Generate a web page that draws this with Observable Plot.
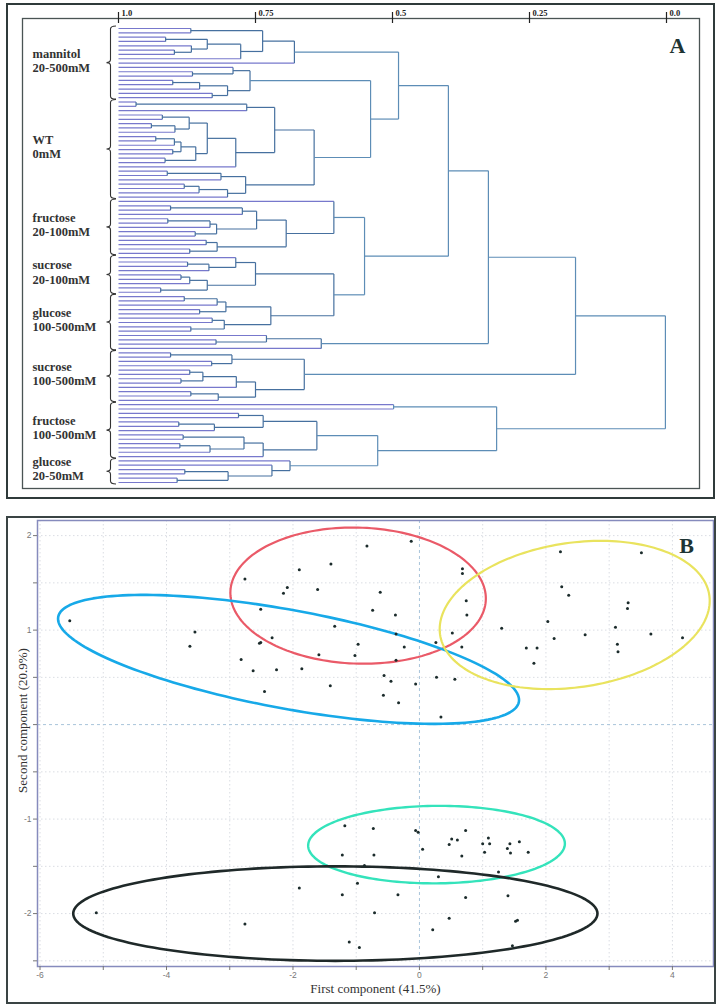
<!DOCTYPE html>
<html><head><meta charset="utf-8">
<script src="https://cdn.jsdelivr.net/npm/d3@7"></script>
<script src="https://cdn.jsdelivr.net/npm/@observablehq/plot@0.6"></script>
<style>
html,body{margin:0;padding:0;background:#fff}
body{width:720px;height:1008px;position:relative;overflow:hidden}
#a,#b{position:absolute;left:0}
#a{top:0}
#b{top:505px}
.frame{position:absolute;box-sizing:border-box;pointer-events:none}
.fa{left:6px;top:3px;width:709px;height:496px;border:2px solid #2f3a3a}
.fb{left:6px;top:516px;width:710px;height:488px;border:2px solid #3a4444}
</style></head><body>
<div id="a"></div><div id="b"></div><div class="frame fa"></div><div class="frame fb"></div>
<script>
// ---------------- Panel A: dendrogram (similarity scale 1.0 -> 0.0) ----------------
// node = [mergeHeight, child, child]; leaf = 1 (leaf level)
const mannitolA = [0.679, [0.737, [0.868, 1, 1], [0.777, [0.838, [0.914, 1, 1], [0.867, 1, [0.898, 1, 1]]], 1]], 1];
const mannitolB = [0.76, [0.791, 1, [0.865, 1, 1]], [0.801, [0.852, [0.901, 1, 1], 1], [0.829, 1, 1]]];
const wtTree = [0.643,
  [0.715, [0.766, [0.968, 1, 1], 1],
    [0.786, [0.838, [0.871, [0.92, 1, 1], [0.897, [0.94, 1, 1], 1]],
                    [0.859, [0.886, [0.898, [0.932, 1, 1], 1], [0.901, 1, 1]], [0.915, 1, 1]]], 1]],
  [0.768, [0.813, [0.911, 1, 1], 1], [0.801, [0.853, [0.88, 1, 1], 1], 1]]];
const fructoseLow = [0.607, 1, [0.694, [0.748, [0.774, [0.905, 1, 1], 1], [0.821, [0.833, [0.91, 1, 1], 1], [0.86, 1, 1]]], [0.82, [0.84, 1, 1], [0.87, 1, 1]]]];
const sucroseLow = [0.75, [0.786, 1, [0.835, [0.874, 1, 1], 1]], [0.838, [0.87, [0.886, 1, 1], 1], [0.923, 1, 1]]];
const glucoseHigh = [0.722, [0.804, [0.82, [0.88, 1, 1], 1], [0.852, 1, 1]], [0.807, [0.829, 1, 1], [0.868, 1, 1]]];
const glucoseTail = [0.63, [0.73, 1, [0.822, 1, 1]], 1];
const sucroseHigh = [0.661, [0.793, [0.905, 1, 1], [0.83, 1, 1]], [0.75, [0.785, [0.846, [0.87, 1, 1], [0.886, 1, 1]], 1], [0.818, [0.868, 1, 1], 1]]];
const outlierPair = [0.498, 1, 1];
const fructoseHigh = [0.638, [0.736, [0.781, 1, 1], [0.825, [0.89, 1, 1], 1]], [0.736, [0.771, [0.882, 1, 1], [0.833, [0.888, 1, 1], 1]], 1]];
const glucoseLow = [0.687, 1, [0.72, 1, [0.8, [0.879, 1, 1], [0.893, 1, 1]]]];
const dendroRoot = [0.002,
  [0.166,
    [0.325,
      [0.398,
        [0.489, mannitolA, [0.54, mannitolB, wtTree]],
        [0.551, fructoseLow, [0.607, sucroseLow, glucoseHigh]]],
      glucoseTail],
    sucroseHigh],
  [0.31, outlierPair, [0.527, fructoseHigh, glucoseLow]]];

const groupLabels = ["mannitol\n20-500mM", "WT\n0mM", "fructose\n20-100mM", "sucrose\n20-100mM",
  "glucose\n100-500mM", "sucrose\n100-500mM", "fructose\n100-500mM", "glucose\n20-50mM"];
const groupSizes = [17, 23, 13, 9, 13, 12, 13, 6];
const scaleTicks = [1, 0.75, 0.5, 0.25, 0];
const scaleTickLabels = ["1.0", "0.75", "0.5", "0.25", "0.0"];

// ---------------- Panel B: PCA scores ----------------
const pc1 = [-5.53,-3.55,-3.63,-2.76,-2.51,-2.51,-2.53,-2.33,-2.82,-2.63,-2.26,-1.86,-2.45,-2.15,-2.09,-1.90,-1.61,-1.40,-1.34,-1.59,-1.41,-0.97,-1.02,
  -0.83,-0.13,0.68,0.68,-0.62,-0.74,-0.38,0.74,0.75,-0.37,0.52,-0.24,0.26,0.67,-0.37,-0.56,-0.45,-0.06,0.27,0.56,-0.57,-0.33,0.34,
  2.23,3.51,2.25,2.36,3.30,3.29,2.03,1.30,3.10,2.62,3.66,4.16,2.13,1.69,1.86,3.13,3.14,1.81,
  -1.18,-1.22,-0.98,-1.22,-1.90,-5.11,-2.76,-1.11,-0.95,
  -0.73,-0.72,-0.06,-0.02,0.05,0.73,0.51,0.60,0.47,0.67,1.09,1.00,1.11,1.03,1.39,1.43,1.58,1.44,1.72,
  1.25,0.30,-0.34,0.73,1.40,-0.71,0.47,0.21,1.52,1.55,1.47,-0.87];
const pc2 = [1.10,0.98,0.83,1.54,1.22,0.87,0.86,0.92,0.69,0.57,0.58,0.59,0.35,1.39,1.45,1.64,1.43,1.70,1.04,0.74,0.41,0.85,0.73,
  1.89,1.94,1.65,1.60,1.40,1.21,1.16,1.31,1.16,0.96,0.97,0.82,0.87,0.82,0.68,0.52,0.46,0.43,0.50,0.48,0.31,0.23,0.08,
  1.83,1.82,1.46,1.37,1.29,1.23,1.09,1.02,1.03,0.95,0.96,0.92,0.91,0.81,0.81,0.85,0.77,0.65,
  -1.07,-1.38,-1.68,-1.80,-1.73,-1.99,-2.11,-2.30,-2.36,
  -1.10,-1.38,-1.12,-1.14,-1.32,-1.12,-1.21,-1.22,-1.27,-1.39,-1.20,-1.26,-1.26,-1.35,-1.31,-1.26,-1.24,-1.36,-1.35,
  -1.56,-1.61,-1.80,-1.83,-1.81,-1.99,-2.05,-2.17,-2.08,-2.07,-2.34,-1.49];
// group ellipses: centre, semi-axis vector u, vertical semi-chord v (data units)
const ellipseColors = ["#ea5a68", "#17a9e8", "#e9e35e", "#34e3bb", "#1f2929"];
const ellipseWidths = [2.2, 2.6, 2.2, 2.4, 2.6];
const ellipseCx = [-0.97, -2.07, 2.455, 0.27, -1.33];
const ellipseCy = [1.365, 0.69, 1.16, -1.27, -2.0];
const ellipseUx = [2.02, 3.645, 2.135, 2.03, 4.145];
const ellipseUy = [-0.03, -0.43, 0.15, 0.01, 0];
const ellipseVy = [0.72, 0.53, 0.77, 0.41, 0.5];
const xTicks = [-6, -5, -4, -3, -2, -1, 0, 1, 2, 3, 4];
const yTicks = [-2.5, -2, -1.5, -1, -0.5, 0, 0.5, 1, 1.5, 2];

// ---------- build dendrogram segments ----------
let leafCounter = 0;
const segs = [];
function segColor(lo, hi) {
  if (lo === 1) return "#7778cc";
  if (hi < 0.6) return "#5d8db6";
  return "#46709f";
}
function layout(node) {
  if (typeof node === "number") return {h: 1, y: leafCounter++};
  const h = node[0];
  const kids = node.slice(1).map(layout);
  const y0 = kids[0].y, y1 = kids[kids.length - 1].y;
  for (const k of kids) segs.push({x1: k.h, x2: h, y1: k.y, y2: k.y, c: segColor(k.h, h)});
  segs.push({x1: h, x2: h, y1: y0, y2: y1, c: segColor(h, h)});
  return {h, y: (y0 + y1) / 2};
}
layout(dendroRoot);
const nLeaves = leafCounter;
const groups = [];
{
  let s = 0;
  groupSizes.forEach((n, i) => { groups.push({label: groupLabels[i], start: s, end: s + n - 1, mid: s + (n - 1) / 2}); s += n; });
}

function braces(index, scales) {
  const g = d3.create("svg:g").attr("fill", "none").attr("stroke", "#333").attr("stroke-width", 1.1);
  const xe = scales.x(1) - 2, xs = xe - 5.5, xt = xs - 4;
  for (const gr of groups) {
    const y0 = scales.y(gr.start - 0.45), y1 = scales.y(gr.end + 0.45), ym = (y0 + y1) / 2, r = 3;
    g.append("path").attr("d",
      `M${xe},${y0}Q${xs},${y0} ${xs},${y0 + r}L${xs},${ym - r}Q${xs},${ym} ${xt},${ym}` +
      `Q${xs},${ym} ${xs},${ym + r}L${xs},${y1 - r}Q${xs},${y1} ${xe},${y1}`);
  }
  return g.node();
}

const serif = '"Liberation Serif", "DejaVu Serif", serif';
const plotA = Plot.plot({
  width: 720, height: 500,
  marginLeft: 22, marginRight: 21, marginTop: 18, marginBottom: 12,
  x: {domain: [1, 0], insetLeft: 96, insetRight: 33, axis: null},
  y: {domain: [0, nLeaves - 1], reverse: true, insetTop: 10, insetBottom: 6, axis: null},
  style: {fontFamily: serif, background: "white"},
  marks: [
    Plot.frame({stroke: "#4a5454", strokeWidth: 1.3}),
    Plot.ruleX(scaleTicks, {x: d => d, insetTop: -6, insetBottom: 465, stroke: "#222", strokeWidth: 1.2}),
    Plot.text(scaleTicks, {x: d => d, text: (d, i) => scaleTickLabels[i], frameAnchor: "top", dy: -3, dx: 3,
      textAnchor: "start", lineAnchor: "bottom", fontWeight: "bold", fontSize: 8.5, fill: "#222"}),
    Plot.link(segs, {x1: "x1", y1: "y1", x2: "x2", y2: "y2", stroke: "c", strokeWidth: 1.2}),
    braces,
    Plot.text(groups, {y: "mid", text: "label", frameAnchor: "left", dx: 10, dy: -3, textAnchor: "start",
      lineAnchor: "middle", lineHeight: 1.15, fontWeight: "bold", fontSize: 12.5, fill: "#333"}),
    Plot.text(["A"], {frameAnchor: "top-right", dx: -22, dy: 27, textAnchor: "middle", lineAnchor: "middle",
      fontSize: 22, fontWeight: "bold", fill: "#1e3434"})
  ]
});
document.getElementById("a").append(plotA);

// ---------- Panel B ----------
const points = pc1.map((x, i) => ({x, y: pc2[i]}));
function ellipsePts(i) {
  return d3.range(0, 2 * Math.PI + 0.001, Math.PI / 90).map(t => ({
    x: ellipseCx[i] + ellipseUx[i] * Math.cos(t),
    y: ellipseCy[i] + ellipseUy[i] * Math.cos(t) + ellipseVy[i] * Math.sin(t)
  }));
}
const plotB = Plot.plot({
  width: 720, height: 503,
  marginLeft: 37, marginRight: 7, marginTop: 15, marginBottom: 42,
  x: {domain: [-6.04, 4.65], axis: null, label: null},
  y: {domain: [-2.56, 2.16], axis: null, label: null},
  style: {fontFamily: serif, background: "white"},
  marks: [
    Plot.ruleX(xTicks.filter(d => d !== 0), {x: d => d, stroke: "#dadde3", strokeDasharray: "1.5,2.5"}),
    Plot.ruleY(yTicks.filter(d => d !== 0), {y: d => d, stroke: "#dadde3", strokeDasharray: "1.5,2.5"}),
    Plot.ruleX([0], {x: d => d, stroke: "#a8c4da", strokeDasharray: "3,3"}),
    Plot.ruleY([0], {y: d => d, stroke: "#a8c4da", strokeDasharray: "3,3"}),
    ...ellipseColors.map((c, i) => Plot.line(ellipsePts(i), {x: "x", y: "y", stroke: c, strokeWidth: ellipseWidths[i]})),
    Plot.dot(points, {x: "x", y: "y", r: 1.5, fill: "#1b2b2b", stroke: "none"}),
    Plot.frame({stroke: "#868bbd", strokeWidth: 1.5}),
    Plot.axisX(xTicks, {tickSize: 4, tickPadding: 1, tickFormat: d => d % 2 === 0 ? String(d) : "",
      fontSize: 8.5, color: "#777", label: null, fontFamily: '"Liberation Sans", sans-serif'}),
    Plot.axisY(yTicks, {tickSize: 4, tickPadding: 2, tickFormat: d => (Number.isInteger(d) && d !== 0) ? String(d) : "",
      fontSize: 8.5, color: "#777", label: null, fontFamily: '"Liberation Sans", sans-serif'}),
    Plot.text(["First component (41.5%)"], {frameAnchor: "bottom", dy: 22, lineAnchor: "middle", fontSize: 13, fill: "#333"}),
    Plot.text(["Second component (20.9%)"], {frameAnchor: "left", rotate: -90, dx: -15, dy: -23,
      textAnchor: "middle", lineAnchor: "middle", fontSize: 13, fill: "#333"}),
    Plot.text(["B"], {frameAnchor: "top-right", dx: -27, dy: 25, textAnchor: "middle", lineAnchor: "middle",
      fontSize: 22, fontWeight: "bold", fill: "#1e3434"})
  ]
});
document.getElementById("b").append(plotB);
</script>
</body></html>
